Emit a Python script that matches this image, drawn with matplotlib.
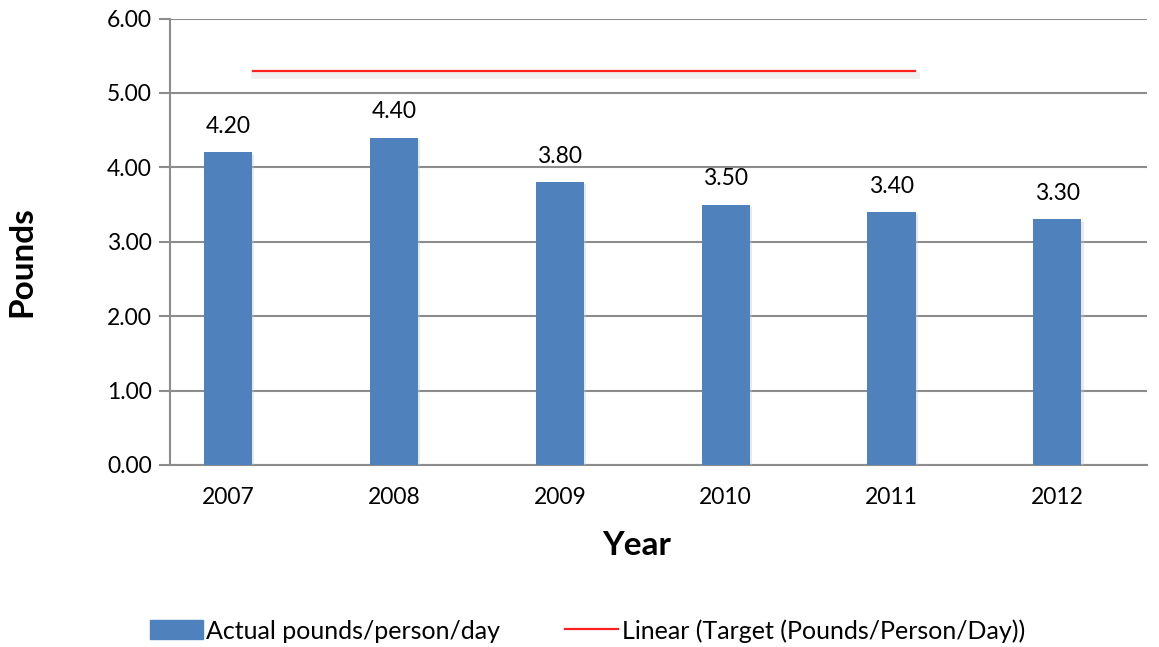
import matplotlib.pyplot as plt
import matplotlib.patheffects as pe
from matplotlib.patches import Patch
from matplotlib.lines import Line2D

plt.rcParams['font.family'] = ['Lato', 'DejaVu Sans']

years = ['2007', '2008', '2009', '2010', '2011', '2012']
actual = [4.20, 4.40, 3.80, 3.50, 3.40, 3.30]
target_level = 5.3
target_span = (0.15, 4.14)   # trendline start/end in category units

bar_color = '#4F81BD'
grid_color = '#8C8C8C'

fig = plt.figure(figsize=(11.59, 6.47), dpi=100)
ax = fig.add_axes([0.1467, 0.2813, 0.8429, 0.6901])

x = list(range(len(years)))
shadow = [pe.SimplePatchShadow(offset=(1.5, -1.5), shadow_rgbFace='#C8C8C8', alpha=0.4), pe.Normal()]
bars = ax.bar(x, actual, width=0.29, color=bar_color, zorder=3, path_effects=shadow)

for xi, v in zip(x, actual):
    ax.annotate('%.2f' % v, (xi, v), xytext=(0, 11), textcoords='offset points',
                ha='center', va='bottom', fontsize=16.5)

ax.plot(target_span, [target_level, target_level], color='#FF2020', lw=1.6, zorder=4,
        path_effects=[pe.SimpleLineShadow(offset=(1, -3), shadow_color='#B8B8B8', alpha=0.2, linewidth=5), pe.Normal()])

ax.set_ylim(0, 6)
ax.set_xlim(-0.35, 5.54)
ax.set_yticks([0, 1, 2, 3, 4, 5, 6])
ax.set_yticklabels(['%.2f' % t for t in range(7)], fontsize=16.5)
ax.set_xticks(x)
ax.set_xticklabels(years, fontsize=16.5)
ax.tick_params(axis='x', length=0, pad=16)
ax.tick_params(axis='y', length=8, color=grid_color, width=1.5, pad=5)

ax.grid(axis='y', color=grid_color, lw=1.5, zorder=0)
for s in ['top', 'right']:
    ax.spines[s].set_visible(False)
for s in ['left', 'bottom']:
    ax.spines[s].set_color(grid_color)
    ax.spines[s].set_linewidth(1.5)

fig.text(0.549, 0.157, 'Year', ha='center', va='center', fontsize=24, fontweight='bold')
fig.text(0.019, 0.595, 'Pounds', ha='center', va='center', rotation=90, fontsize=24, fontweight='bold')

handles = [Patch(color=bar_color), Line2D([0], [0], color='#FF2020', lw=1.6)]
fig.legend(handles, ['Actual pounds/person/day', 'Linear (Target (Pounds/Person/Day))'],
           loc='center', bbox_to_anchor=(0.507, 0.025), ncol=2, frameon=False,
           fontsize=18, handlelength=2.1, handleheight=0.8, handletextpad=0.15, columnspacing=2.6)

fig.savefig('out.png', dpi=100)
